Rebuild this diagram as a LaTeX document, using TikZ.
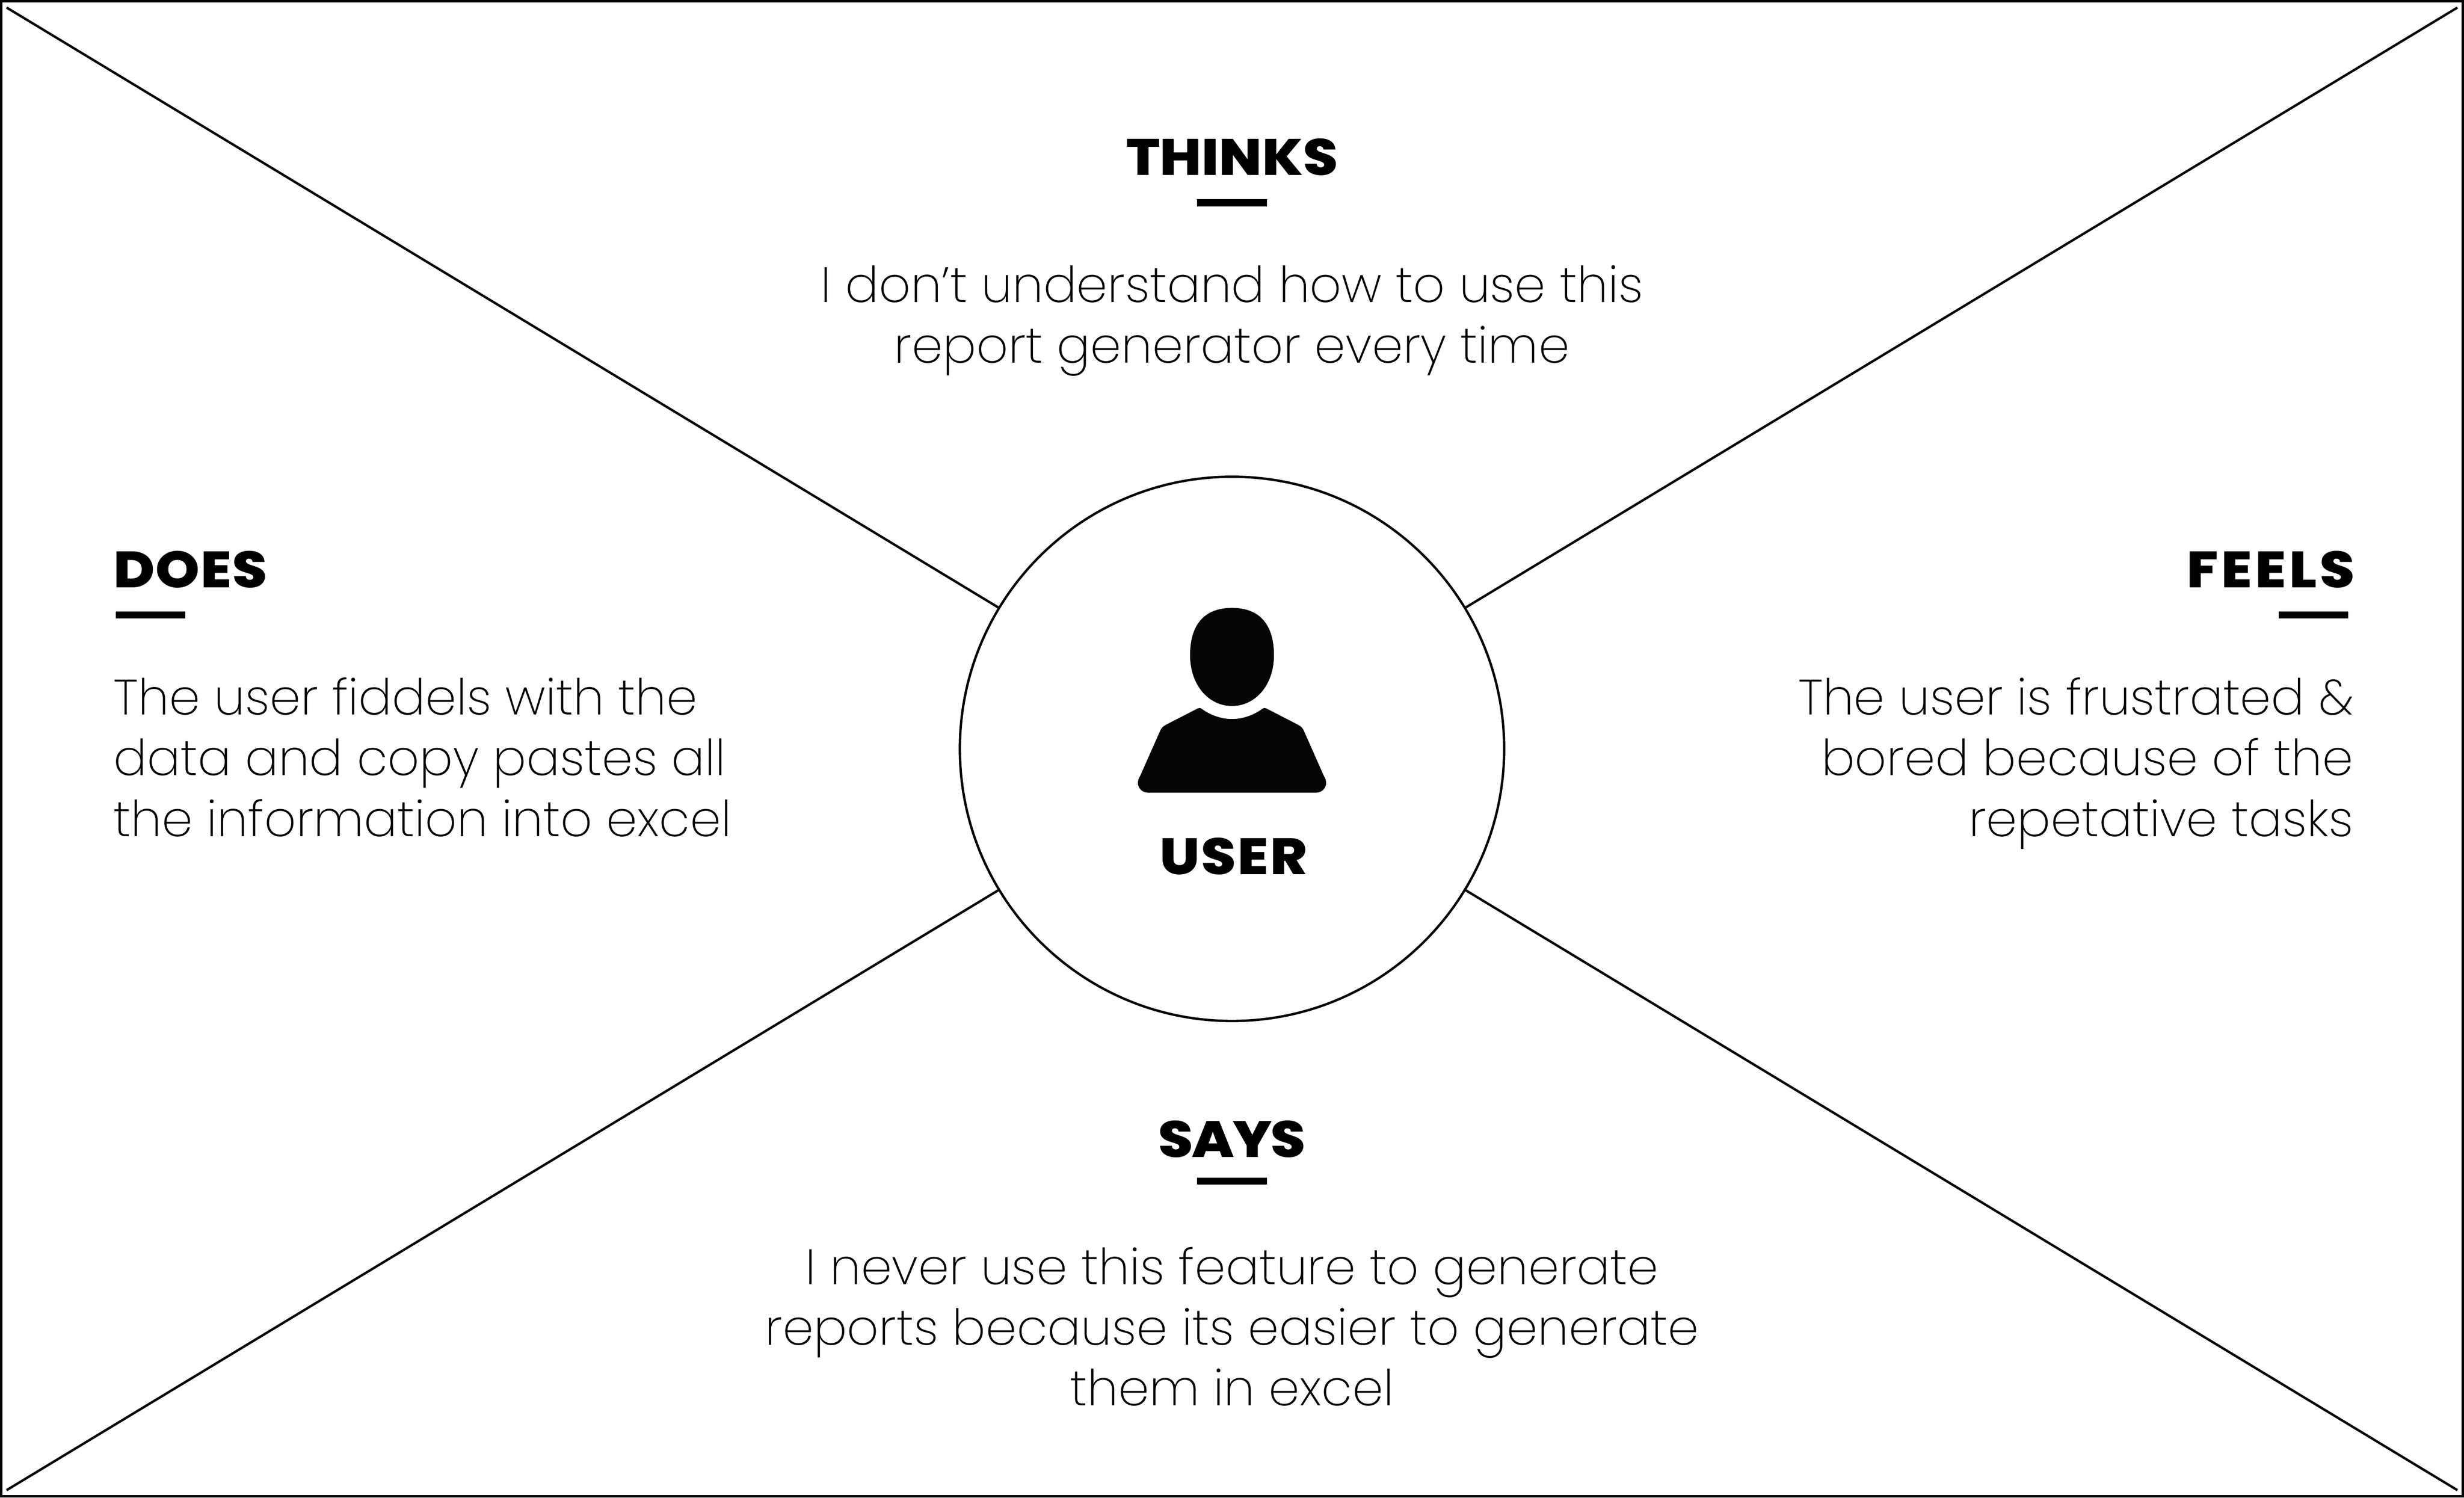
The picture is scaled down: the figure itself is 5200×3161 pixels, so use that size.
\documentclass[tikz,border=0pt]{standalone}
\usepackage{fontspec}
\setmainfont{Poppins ExtraLight}[BoldFont=Poppins ExtraBold,BoldFeatures={FakeStretch=1.1}]
\tikzset{
  rule/.style={draw=black,line width=0.05cm},
  head/.style={font=\bfseries\fontsize{30.7}{36}\selectfont,inner sep=0pt,text=black},
  bodytext/.style={font=\fontsize{29.8}{36.5}\selectfont,inner sep=0pt,text=black},
  tick/.style={fill=black,draw=none,minimum width=1.47cm,minimum height=0.15cm,inner sep=0pt},
  hub/.style={circle,draw=black,line width=0.05cm,minimum size=11.48cm,inner sep=0pt,fill=white}
}
\begin{document}
\begin{tikzpicture}[x=0.01cm,y=-0.01cm]
\useasboundingbox (0,0) rectangle (5200,3161);
\draw[line width=0.055cm] (2.75,2.75) rectangle (5197.25,3158.25);
\coordinate (tl) at (14,16);
\coordinate (tr) at (5186,16);
\coordinate (bl) at (14,3145);
\coordinate (br) at (5186,3145);
\node[hub] (user) at (2600,1580.5) {};
\draw[rule] (tl) -- (user);
\draw[rule] (tr) -- (user);
\draw[rule] (bl) -- (user);
\draw[rule] (br) -- (user);
% icon
\fill[black!98] (2600,1283) .. controls (2660,1283) and (2688.5,1320) .. (2688.5,1383)
  .. controls (2688.5,1445) and (2650,1490) .. (2600,1490)
  .. controls (2550,1490) and (2511.5,1445) .. (2511.5,1383)
  .. controls (2511.5,1320) and (2540,1283) .. (2600,1283) -- cycle;
\fill[black!98] (2536,1496) .. controls (2555,1510) and (2578,1517.5) .. (2600,1517.5)
  .. controls (2622,1517.5) and (2645,1510) .. (2664,1496)
  .. controls (2666,1494) and (2669,1493.5) .. (2672,1495)
  -- (2740,1530) .. controls (2746,1533) and (2749,1537) .. (2751,1541)
  -- (2794,1638) .. controls (2805,1655) and (2795,1673) .. (2776,1673)
  -- (2424,1673) .. controls (2405,1673) and (2395,1655) .. (2406,1638)
  -- (2449,1541) .. controls (2451,1537) and (2454,1533) .. (2460,1530)
  -- (2528,1495) .. controls (2531,1493.5) and (2534,1494) .. (2536,1496) -- cycle;
\node[head,anchor=base] (usr) at (2603,1845) {\addfontfeature{LetterSpace=3}USER};
% thinks
\node[head,anchor=base] (th) at (2600,370) {THINKS};
\node[tick] (thb) at (2600,428) {};
\node[bodytext,anchor=base,align=center] (tht) at (2600,766) {I don’t understand how to use this\\report generator every time};
% does
\node[head,anchor=base west] (dh) at (239,1240) {\addfontfeature{LetterSpace=1.5}DOES};
\node[tick] (dhb) at (318,1298) {};
\node[bodytext,anchor=base west,align=left] (dht) at (239,1765) {The user fiddels with the\\data and copy pastes all\\the information into excel};
% feels
\node[head,anchor=base east] (fh) at (4970,1240) {\addfontfeature{LetterSpace=6}FEELS};
\node[tick] (fhb) at (4882,1298) {};
\node[bodytext,anchor=base east,align=right] (fht) at (4967,1765) {The user is frustrated \&\\bored because of the\\repetative tasks};
% says
\node[head,anchor=base] (sh) at (2600,2442) {\addfontfeature{LetterSpace=-3}SAYS};
\node[tick] (shb) at (2600,2493) {};
\node[bodytext,anchor=base,align=center] (sht) at (2600,2967) {I never use this feature to generate\\reports because its easier to generate\\them in excel};
\end{tikzpicture}
\end{document}
